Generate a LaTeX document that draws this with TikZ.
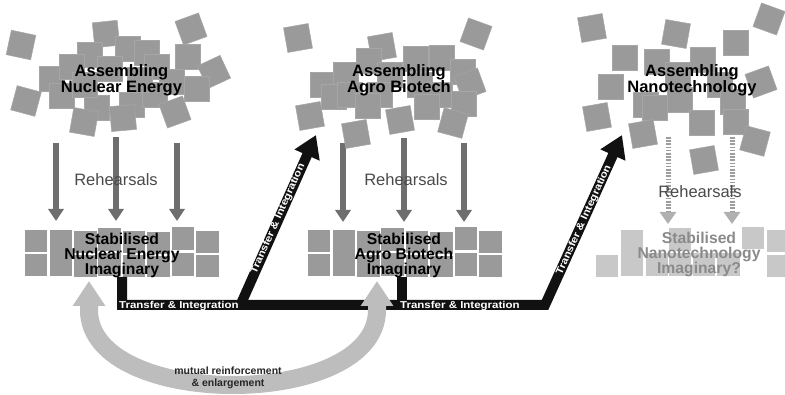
\documentclass[tikz,border=0pt]{standalone}
\usepackage{fontspec}
\setmainfont{Liberation Sans}
\usetikzlibrary{arrows.meta}
\definecolor{sq}{HTML}{9A9A9A}
\definecolor{sqedge}{HTML}{A6A6A6}
\definecolor{reh}{HTML}{6E6E6E}
\definecolor{nanosq}{HTML}{C8C8C8}
\definecolor{nanotxt}{HTML}{8A8A8A}
\definecolor{nanodot}{HTML}{9C9C9C}
\definecolor{nanohead}{HTML}{B0B0B0}
\definecolor{curvegray}{HTML}{BDBDBD}
\definecolor{blk}{HTML}{111111}
\definecolor{rehtxt}{HTML}{4A4A4A}
\newcommand{\widetext}[1]{\scalebox{1.15}[1]{#1}}
\tikzset{
  clsq/.style={fill=sq, draw=sqedge, line width=0.5pt},
  stsq/.style={fill=sq, draw=white, line width=1pt},
  nsq/.style={fill=nanosq, draw=white, line width=1pt},
  reharrow/.style={draw=reh, line width=6pt, -{Triangle[width=15pt,length=12pt]}},
  nanodots/.style={draw=nanodot, line width=5pt, dash pattern=on 1.6pt off 1.6pt},
  nanoarrow/.style={draw=nanohead, line width=5pt, -{Triangle[width=16pt,length=12pt]}},
  blkbar/.style={draw=blk, line width=10pt, line join=miter},
  blkarrow/.style={blkbar, -{Triangle[width=26pt,length=22pt]}},
  assemble/.style={align=center, inner sep=0pt, font=\bfseries\fontsize{16.5}{14.5}\selectfont},
  stab/.style={align=center, inner sep=0pt, font=\bfseries\fontsize{15.7}{15}\selectfont},
  rehlabel/.style={inner sep=0pt, text=rehtxt, font=\fontsize{16.5}{18}\selectfont},
  tilabel/.style={inner sep=0pt, text=white, font=\bfseries\fontsize{10}{11}\selectfont},
  mutlabel/.style={align=center, inner sep=0pt, text=black!85, font=\bfseries\fontsize{10.5}{12}\selectfont},
}
\begin{document}
\begin{tikzpicture}[x=1pt, y=-1pt]
\useasboundingbox (0,0) rectangle (785,395);
\fill[white] (0,0) rectangle (785,395);

% ---------- rehearsal arrows ----------
\coordinate (r1a) at (56,143);  \coordinate (r1b) at (56,221);
\coordinate (r2a) at (116,137); \coordinate (r2b) at (116,221);
\coordinate (r3a) at (177,143); \coordinate (r3b) at (177,221);
\coordinate (r4a) at (343,143); \coordinate (r4b) at (343,222);
\coordinate (r5a) at (404,138); \coordinate (r5b) at (404,222);
\coordinate (r6a) at (464,143); \coordinate (r6b) at (464,222);
\foreach \s/\e in {r1a/r1b, r2a/r2b, r3a/r3b, r4a/r4b, r5a/r5b, r6a/r6b}
  \draw[reharrow] (\s) -- (\e);

\coordinate (n1a) at (668,137); \coordinate (n1m) at (668,212); \coordinate (n1b) at (668,224);
\coordinate (n2a) at (732,137); \coordinate (n2m) at (732,212); \coordinate (n2b) at (732,224);
\draw[nanodots] (n1a) -- (n1m);
\draw[nanodots] (n2a) -- (n2m);
\draw[nanoarrow] (n1m) -- (n1b);
\draw[nanoarrow] (n2m) -- (n2b);

% ---------- assembling clusters ----------
\foreach \x/\y/\r in {21/45/-12, 106/34/6, 191/29/20, 128/49/0, 90/55/0, 147/53/0, 188/57/0,
  214/72/25, 52/79/0, 72/67/0, 110/69/0, 157/67/0, 172/82/0, 197/89/0, 26/101/-15,
  62/96/0, 97/108/0, 132/105/0, 155/95/0, 140/80/0, 85/85/0, 123/118/5, 84/122/-10, 175/112/20}
  \filldraw[clsq, rotate around={\r:(\x,\y)}] (\x-12.5,\y-12.5) rectangle (\x+12.5,\y+12.5);

\foreach \x/\y/\r in {298/38/10, 382/47/10, 476/34/-20, 369/61/0, 416/59/0, 442/58/0,
  323/85/0, 346/75/0, 390/75/0, 420/85/0, 463/72/0, 470/84/20, 334/97/0, 350/95/0,
  380/95/0, 440/95/0, 368/106/0, 427/107/0, 464/104/0, 310/116/10, 400/120/10,
  453/123/-15, 356/134/10}
  \filldraw[clsq, rotate around={\r:(\x,\y)}] (\x-12.5,\y-12.5) rectangle (\x+12.5,\y+12.5);

\foreach \x/\y/\r in {592/28/10, 676/34/-10, 769/19/-20, 736/43/0, 625/58/0, 657/62/0,
  703/60/0, 678/75/0, 720/85/0, 611/87/0, 761/82/20, 646/105/0, 655/108/0, 680/100/0,
  733/102/0, 597/117/10, 702/123/0, 736/122/0, 643/134/10, 755/141/-15, 704/160/10}
  \filldraw[clsq, rotate around={\r:(\x,\y)}] (\x-12.5,\y-12.5) rectangle (\x+12.5,\y+12.5);

\node[assemble] (nucA) at (121.5,80) {Assembling\\Nuclear Energy};
\node[assemble] (agA)  at (399,80)   {Assembling\\Agro Biotech};
\node[assemble] (nanoA) at (692,80.5) {Assembling\\Nanotechnology};

% ---------- rehearsal labels ----------
\node[rehlabel] (reh1) at (116,180) {Rehearsals};
\node[rehlabel] (reh2) at (406,180) {Rehearsals};
\node[rehlabel] (reh3) at (700,192) {Rehearsals};

% ---------- stabilised rows ----------
\foreach \a/\b/\c/\d in {24/230/47/253, 24/254/47/277, 49/230/72/277,
  73/231/97/254, 73/255/97/278, 97/228/121/252, 97/253/121/277,
  122/231/145/254, 122/255/145/278, 146/232/170/255, 146/256/170/278,
  171/227/194/251, 171/253/194/277, 195/231/219/254, 195/255/219/278}
{
  \filldraw[stsq] (\a,\b) rectangle (\c,\d);
  \filldraw[stsq] (\a+283,\b) rectangle (\c+283,\d);
}
\foreach \a/\b/\c/\d in {595/255/618/278, 620/230/643/277, 645/253/668/277,
  668/228/691/252, 668/253/691/277, 692/253/715/277, 716/253/740/277,
  741/227/764/250, 766/230/789/253, 766/255/789/278}
  \filldraw[nsq] (\a,\b) rectangle (\c,\d);

\node[stab] (nucS) at (122,255) {Stabilised\\Nuclear Energy\\Imaginary};
\node[stab] (agS)  at (404,255) {Stabilised\\Agro Biotech\\Imaginary};
\node[stab, text=nanotxt] (nanoS) at (699,254) {Stabilised\\Nanotechnology\\Imaginary?};

% ---------- transfer & integration ----------
\coordinate (b1) at (122,277);
\coordinate (j1) at (122,305);
\coordinate (k1) at (545,305);
\coordinate (t2) at (622,135);
\coordinate (d1) at (240,306);
\coordinate (t1) at (316,135);
\coordinate (b2) at (402,277);
\coordinate (j2) at (402,305);
\draw[blkarrow] (b1) -- (j1) -- (k1) -- (t2);
\draw[blkarrow] (d1) -- (t1);
\draw[blkbar] (b2) -- (j2);

\node[tilabel, anchor=west] (ti1) at (119,306) {\widetext{Transfer \& Integration}};
\node[tilabel, anchor=west] (ti2) at (400,306) {\widetext{Transfer \& Integration}};
\node[tilabel, rotate=66] (ti3) at (278,219) {\widetext{Transfer \& Integration}};
\node[tilabel, rotate=65.6] (ti4) at (584,220) {\widetext{Transfer \& Integration}};

% ---------- mutual reinforcement ----------
\coordinate (m1) at (89,281);
\coordinate (m1b) at (89,310);
\coordinate (m2b) at (377,310);
\coordinate (m2) at (377,281);
\draw[draw=curvegray, line width=18pt,
      {Triangle[width=31pt,length=25pt]}-{Triangle[width=31pt,length=25pt]}]
  (m1) -- (m1b) .. controls (89,410) and (377,410) .. (m2b) -- (m2);
\node[mutlabel] (mutual) at (228,378) {mutual reinforcement\\\& enlargement};
\end{tikzpicture}
\end{document}
